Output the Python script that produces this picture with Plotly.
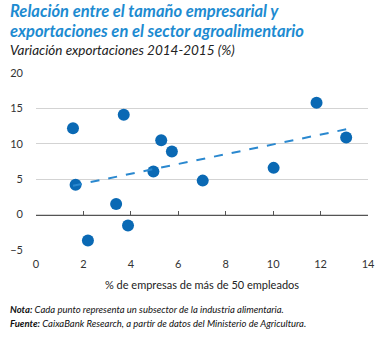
import numpy as np
import plotly.graph_objects as go

# Data: % of firms with >50 employees vs export growth 2014-2015 (%)
pct_large = [1.56, 1.67, 3.70, 5.28, 5.73, 4.95, 3.38, 3.88, 2.19, 7.03, 10.02, 11.83, 13.08]
export_var = [12.2, 4.2, 14.1, 10.5, 8.9, 6.1, 1.5, -1.55, -3.67, 4.8, 6.6, 15.8, 10.9]
x_ticks = [0, 2, 4, 6, 8, 10, 12, 14]
y_ticks = [-5, 0, 5, 10, 15, 20]

xs = np.array(pct_large)
ys = np.array(export_var)
slope, intercept = np.polyfit(xs, ys, 1)
trend_x = [xs.min(), xs.max()]
trend_y = [slope * v + intercept for v in trend_x]

FONT = "Lato"
BLUE_T = "#1d8bd1"
BLUE_M = "#0a69b4"

PLOT_TOP, PLOT_H, PLOT_L, PLOT_W = 73.3, 177.0, 30.7, 344.6


def py(pix):
    return 1 + (PLOT_TOP - pix) / PLOT_H


LEFT = -(PLOT_L - 3) / PLOT_W

fig = go.Figure()
fig.add_trace(go.Scatter(x=pct_large, y=export_var, mode="markers",
                         marker=dict(size=12, color=BLUE_M), showlegend=False,
                         hoverinfo="skip"))
fig.add_trace(go.Scatter(x=trend_x, y=trend_y, mode="lines",
                         line=dict(color="#2a88cf", width=2, dash="dash"),
                         showlegend=False, hoverinfo="skip"))
fig.add_trace(go.Scatter(x=[None], y=[None], xaxis="x2", showlegend=False))

fig.update_layout(
    width=386, height=338,
    margin=dict(l=PLOT_L, r=10.7, t=PLOT_TOP, b=87.7),
    paper_bgcolor="white", plot_bgcolor="white",
    font=dict(family=FONT, size=11, color="#333333"),
    xaxis=dict(range=[0, 14], tickvals=x_ticks, showgrid=False, zeroline=False,
               showline=False, ticks="", ticklabelstandoff=6,
               tickfont=dict(size=11, color="#333333"),
               title=dict(text="% de empresas de más de 50 empleados",
                          font=dict(size=11, color="#222222"), standoff=12)),
    xaxis2=dict(range=[0, 14], tickvals=x_ticks, overlaying="x", anchor="free",
                position=0.2, side="bottom", showline=True, linecolor="#555555",
                linewidth=1.2, ticks="inside", ticklen=4, tickcolor="#555555",
                tickwidth=1, showticklabels=False, showgrid=False, zeroline=False),
    yaxis=dict(range=[-5, 20], tickvals=y_ticks, showgrid=True, gridcolor="#d3d3d3",
               gridwidth=1, zeroline=False, showline=False, ticks="",
               ticklabelstandoff=12, tickfont=dict(size=11, color="#333333")),
)

for txt, ypix in [("Relación entre el tamaño empresarial y", 11.5),
                  ("exportaciones en el sector agroalimentario", 31)]:
    fig.add_annotation(xref="paper", yref="paper", x=LEFT, y=py(ypix),
                       xanchor="left", yanchor="middle", align="left", showarrow=False,
                       borderpad=0, text=f"<b><i>{txt}</i></b>",
                       font=dict(family=FONT, size=16.5, color=BLUE_T))
fig.add_annotation(xref="paper", yref="paper", x=LEFT, y=py(50.5),
                   xanchor="left", yanchor="middle", align="left", showarrow=False,
                   borderpad=0, text="<i>Variación exportaciones 2014-2015 (%)</i>",
                   font=dict(family=FONT, size=13.5, color="#222222"))
for txt, ypix in [("<b><i>Nota:</i></b><i> Cada punto representa un subsector de la industria alimentaria.</i>", 310),
                  ("<b><i>Fuente:</i></b><i> CaixaBank Research, a partir de datos del Ministerio de Agricultura.</i>", 324)]:
    fig.add_annotation(xref="paper", yref="paper", x=LEFT, y=py(ypix),
                       xanchor="left", yanchor="middle", align="left", showarrow=False,
                       borderpad=0, text=txt,
                       font=dict(family=FONT, size=9.5, color="#111111"))

fig.write_html("out.html")
